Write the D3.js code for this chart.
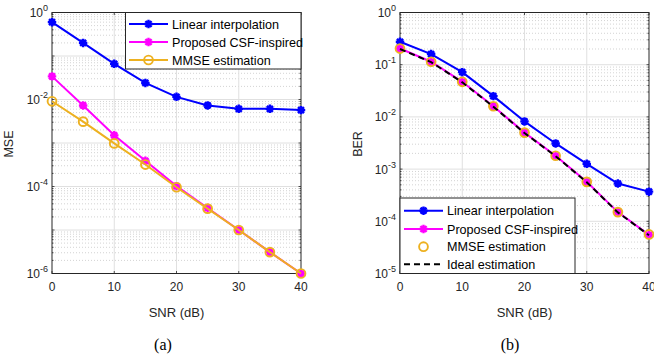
<!DOCTYPE html>
<html><head><meta charset="utf-8">
<script src="https://cdn.jsdelivr.net/npm/d3@7"></script>
<style>body{margin:0;background:#fff}svg{display:block}</style>
</head><body>
<svg id="c" width="654" height="358"></svg>
<script>
const snr = [0,5,10,15,20,25,30,35,40];
const xTicks = [0,10,20,30,40];

// Panel (a): MSE
const mseLinear = [0.6,0.2,0.066,0.024,0.0115,0.0073,0.0061,0.0061,0.0057];
const mseProposed = [0.034,0.0073,0.0015,3.9e-4,1.02e-4,3.2e-5,1.0e-5,3.1e-6,1.0e-6];
const mseMMSE = [0.0091,0.0031,9.8e-4,3.2e-4,9.6e-5,3.1e-5,1.0e-5,3.1e-6,1.0e-6];
const mseTickExp = [0,-2,-4,-6];

// Panel (b): BER
const berLinear = [0.275,0.16,0.072,0.025,0.0082,0.0031,0.00126,5.3e-4,3.7e-4];
const berProposed = [0.204,0.114,0.047,0.016,0.005,0.0018,5.7e-4,1.5e-4,5.5e-5];
const berMMSE = [0.204,0.114,0.047,0.016,0.005,0.0018,5.7e-4,1.5e-4,5.6e-5];
const berIdeal = [0.2,0.112,0.046,0.0157,0.0049,0.00177,5.6e-4,1.48e-4,5.4e-5];
const berTickExp = [0,-1,-2,-3,-4,-5];

const legendA = ["Linear interpolation","Proposed CSF-inspired","MMSE estimation"];
const legendB = ["Linear interpolation","Proposed CSF-inspired","MMSE estimation","Ideal estimation"];

const BLUE="#0000ff", MAG="#ff00ff", ORA="#edb120", AX="#262626";
const svg = d3.select("#c");
const FONT = "'Liberation Sans', Arial, Helvetica, sans-serif";

const asterisk = { draw(ctx, size){ const r=Math.sqrt(size)/2; const d=r*0.7071;
  ctx.moveTo(-r,0);ctx.lineTo(r,0);ctx.moveTo(0,-r);ctx.lineTo(0,r);
  ctx.moveTo(-d,-d);ctx.lineTo(d,d);ctx.moveTo(-d,d);ctx.lineTo(d,-d);} };
const MS = 72;

function panel(o){
  const g = svg.append("g");
  const x = d3.scaleLinear().domain([0,40]).range([o.x0,o.x1]);
  const y = d3.scaleLog().domain([Math.pow(10,o.eMin),1]).range([o.y1,o.y0]);
  const minors=[], majors=[];
  for(let e=o.eMin;e<0;e++){ for(let k=2;k<=9;k++) minors.push(k*Math.pow(10,e)); }
  for(let e=o.eMin+1;e<0;e++) majors.push(Math.pow(10,e));
  g.selectAll(".mg").data(minors).join("line").attr("x1",o.x0).attr("x2",o.x1)
    .attr("y1",d=>y(d)).attr("y2",d=>y(d)).attr("stroke","#c8c8c8").attr("stroke-width",0.8).attr("stroke-dasharray","1,2");
  g.selectAll(".Mg").data(majors).join("line").attr("x1",o.x0).attr("x2",o.x1)
    .attr("y1",d=>y(d)).attr("y2",d=>y(d)).attr("stroke","#e0e0e0").attr("stroke-width",1);
  g.selectAll(".vg").data(xTicks.slice(1,-1)).join("line").attr("y1",o.y0).attr("y2",o.y1)
    .attr("x1",d=>x(d)).attr("x2",d=>x(d)).attr("stroke","#e0e0e0").attr("stroke-width",1);
  const tk = g.append("g").attr("stroke",AX).attr("stroke-width",0.8);
  xTicks.forEach(t=>{ tk.append("line").attr("x1",x(t)).attr("x2",x(t)).attr("y1",o.y1).attr("y2",o.y1-2.5);
                      tk.append("line").attr("x1",x(t)).attr("x2",x(t)).attr("y1",o.y0).attr("y2",o.y0+2.5); });
  minors.concat(majors).forEach(v=>{ const L = majors.includes(v)?2.5:1.5;
    tk.append("line").attr("x1",o.x0).attr("x2",o.x0+L).attr("y1",y(v)).attr("y2",y(v));
    tk.append("line").attr("x1",o.x1).attr("x2",o.x1-L).attr("y1",y(v)).attr("y2",y(v)); });
  g.append("rect").attr("x",o.x0).attr("y",o.y0).attr("width",o.x1-o.x0).attr("height",o.y1-o.y0)
    .attr("fill","none").attr("stroke",AX).attr("stroke-width",1);
  xTicks.forEach(t=>{ g.append("text").attr("x",x(t)).attr("y",o.y1+17).attr("text-anchor","middle")
    .attr("font-family",FONT).attr("font-size",12).attr("fill",AX).text(t); });
  o.tickExp.forEach(e=>{ const t=g.append("text").attr("x",o.x0-4).attr("y",y(Math.pow(10,e))+4.5)
      .attr("text-anchor","end").attr("font-family",FONT).attr("font-size",12).attr("fill",AX);
    t.append("tspan").text("10"); t.append("tspan").attr("dy",-6).attr("font-size",9).text(e); });
  g.append("text").attr("x",(o.x0+o.x1)/2).attr("y",o.y1+43).attr("text-anchor","middle")
    .attr("font-family",FONT).attr("font-size",13).attr("fill",AX).text("SNR (dB)");
  g.append("text").attr("transform",`translate(${o.ylx},${(o.y0+o.y1)/2+1}) rotate(-90)`).attr("text-anchor","middle")
    .attr("font-family",FONT).attr("font-size",12.5).attr("fill",AX).text(o.ylabel);
  g.append("text").attr("x",o.capX).attr("y",350).attr("text-anchor","middle")
    .attr("font-family","'Liberation Serif','Times New Roman',serif").attr("font-size",16).attr("fill","#000").text(o.cap);
  const line = d3.line().x((d,i)=>x(snr[i])).y(d=>y(d));
  o.series.forEach(s=>{
    if(s.line) g.append("path").attr("d",line(s.v)).attr("fill","none").attr("stroke",s.c).attr("stroke-width",2)
       .attr("stroke-dasharray",s.dash||null);
    if(s.m==="*") g.selectAll(null).data(s.v).join("path").attr("transform",(d,i)=>`translate(${x(snr[i])},${y(d)})`)
       .attr("d",d3.symbol().type(asterisk).size(MS)).attr("stroke",s.c).attr("stroke-width",2.4).attr("fill","none");
    if(s.m==="o") g.selectAll(null).data(s.v).join("circle").attr("cx",(d,i)=>x(snr[i])).attr("cy",d=>y(d))
       .attr("r",4.4).attr("fill","none").attr("stroke",s.c).attr("stroke-width",1.9);
  });
  const L=o.leg;
  const lg=g.append("g");
  lg.append("rect").attr("x",L.x0).attr("y",L.y0).attr("width",L.x1-L.x0).attr("height",L.y1-L.y0)
    .attr("fill","#fff").attr("stroke",AX).attr("stroke-width",1);
  o.series.forEach((s,i)=>{ const yy=L.ys[i]; const xm=(L.lx0+L.lx1)/2;
    if(s.line) lg.append("line").attr("x1",L.lx0).attr("x2",L.lx1).attr("y1",yy).attr("y2",yy)
       .attr("stroke",s.c).attr("stroke-width",2).attr("stroke-dasharray",s.dash||null);
    if(s.m==="*") lg.append("path").attr("transform",`translate(${xm},${yy})`).attr("d",d3.symbol().type(asterisk).size(MS))
       .attr("stroke",s.c).attr("stroke-width",2.4).attr("fill","none");
    if(s.m==="o") lg.append("circle").attr("cx",xm).attr("cy",yy).attr("r",4.4).attr("fill","none").attr("stroke",s.c).attr("stroke-width",1.9);
    lg.append("text").attr("x",L.tx).attr("y",yy+4.5).attr("font-family",FONT).attr("font-size",12.6).attr("fill","#000").text(o.names[i]);
  });
}

panel({x0:52,x1:301,y0:12.5,y1:273.5,eMin:-6,tickExp:mseTickExp,ylabel:"MSE",ylx:13,cap:"(a)",capX:163,names:legendA,
  series:[{v:mseLinear,c:BLUE,m:"*",line:true},{v:mseProposed,c:MAG,m:"*",line:true},{v:mseMMSE,c:ORA,m:"o",line:true}],
  leg:{x0:125.5,x1:301,y0:12.5,y1:69,ys:[24,42,60],lx0:129,lx1:168,tx:172}});
panel({x0:400,x1:649,y0:12.5,y1:273.5,eMin:-5,tickExp:berTickExp,ylabel:"BER",ylx:362,cap:"(b)",capX:510,names:legendB,
  series:[{v:berLinear,c:BLUE,m:"*",line:true},{v:berProposed,c:MAG,m:"*",line:true},{v:berMMSE,c:ORA,m:"o",line:false},
          {v:berIdeal,c:"#000",m:null,line:true,dash:"6,4"}],
  leg:{x0:400,x1:575,y0:198,y1:273.5,ys:[210.7,229,246.7,264.3],lx0:404,lx1:443,tx:447}});
</script>
</body></html>
